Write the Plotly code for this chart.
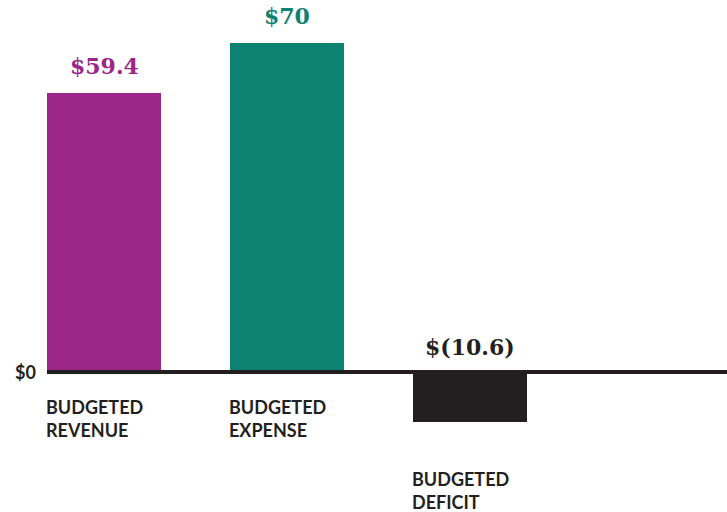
import plotly.graph_objects as go

categories = ["BUDGETED<br>REVENUE", "BUDGETED<br>EXPENSE", "BUDGETED<br>DEFICIT"]
values = [59.4, 70, -10.6]
value_labels = ["$59.4", "$70", "$(10.6)"]
colors = ["#9B2589", "#0E8272", "#231F20"]

xpos = list(range(len(values)))
bar_w = 0.623

fig = go.Figure()
fig.add_trace(go.Bar(
    x=xpos, y=values, width=bar_w,
    marker=dict(color=colors, line=dict(width=0)),
    hoverinfo="skip", showlegend=False,
))

# zero line
fig.add_shape(type="line", xref="paper", x0=0, x1=1, yref="y", y0=0, y1=0,
              line=dict(color="#231F20", width=4), layer="above")

annotations = []
for i, (v, lab, c, cat) in enumerate(zip(values, value_labels, colors, categories)):
    if v >= 0:
        annotations.append(dict(x=i, y=v, yshift=27, text=lab, showarrow=False,
                                xanchor="center", yanchor="middle",
                                font=dict(family="DejaVu Serif", size=22, color=c, weight="bold")))
        cy_shift = -23
    else:
        annotations.append(dict(x=i, y=0, yshift=25, text=lab, showarrow=False,
                                xanchor="center", yanchor="middle",
                                font=dict(family="DejaVu Serif", size=22, color=c, weight="bold")))
        cy_shift = -95
    annotations.append(dict(x=i - bar_w / 2, y=0, xshift=-2, yshift=cy_shift, text=cat,
                            showarrow=False, borderpad=0,
                            xanchor="left", yanchor="top", align="left",
                            font=dict(family="Lato", size=18, color="#231F20", weight="bold")))

annotations.append(dict(xref="paper", x=0, y=0, xshift=-9, text="$0", showarrow=False,
                        xanchor="right", yanchor="middle",
                        font=dict(family="Lato", size=18, color="#231F20", weight="bold")))

fig.update_layout(
    width=727, height=512,
    margin=dict(l=47, r=0, t=0, b=0),
    paper_bgcolor="white", plot_bgcolor="white",
    xaxis=dict(range=[-0.3115, 3.404], visible=False, fixedrange=True),
    yaxis=dict(range=[-29.79, 79.15], visible=False, fixedrange=True),
    annotations=annotations,
    bargap=0,
)

fig.write_html("out.html", config={"displayModeBar": False},
               post_script="document.body.style.margin='0px';")
